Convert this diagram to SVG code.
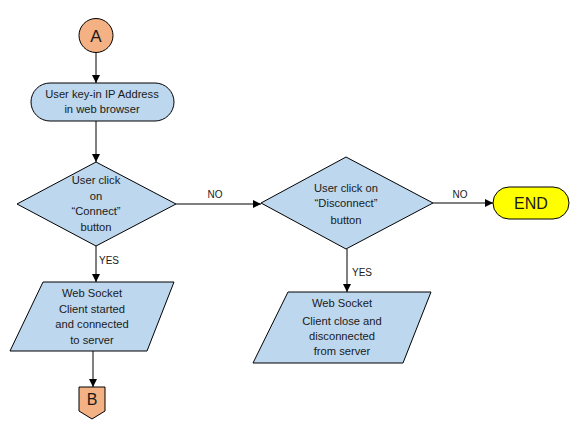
<svg xmlns="http://www.w3.org/2000/svg" width="573" height="427" viewBox="0 0 573 427">
<style>
text{font-family:"Liberation Sans",Arial,sans-serif;font-size:11.2px;fill:#1a1a1a;text-anchor:middle}
.proc{fill:#BDD7EE;stroke:#000;stroke-width:1}
.conn{fill:#F4B183;stroke:#000;stroke-width:1}
.line{fill:none;stroke:#000;stroke-width:1}
.lbl{font-size:10px}
</style>
<defs>
<marker id="arr" markerWidth="8" markerHeight="8" refX="8" refY="4" orient="auto" markerUnits="userSpaceOnUse">
<path d="M0,0 L8,4 L0,8 Z" fill="#000"/>
</marker>
</defs>
<rect width="573" height="427" fill="#fff"/>
<g id="connectors">
<line class="line" x1="96" y1="53" x2="96" y2="83" marker-end="url(#arr)"/>
<line class="line" x1="96" y1="121" x2="96" y2="162" marker-end="url(#arr)"/>
<line class="line" x1="96" y1="246" x2="96" y2="282" marker-end="url(#arr)"/>
<text class="lbl" x="109" y="264">YES</text>
<line class="line" x1="93" y1="351" x2="93" y2="387" marker-end="url(#arr)"/>
<line class="line" x1="176" y1="204" x2="261" y2="204" marker-end="url(#arr)"/>
<text class="lbl" x="215" y="198">NO</text>
<line class="line" x1="347" y1="249" x2="347" y2="292" marker-end="url(#arr)"/>
<text class="lbl" x="362" y="276">YES</text>
<line class="line" x1="433" y1="203" x2="493" y2="203" marker-end="url(#arr)"/>
<text class="lbl" x="460" y="198">NO</text>
</g>
<g id="nodeA">
<circle class="conn" cx="96" cy="35.5" r="17"/>
<text x="96" y="42" style="font-size:17px">A</text>
</g>
<g id="nodeKeyIn">
<rect class="proc" x="31" y="83" width="143" height="38" rx="19"/>
<text x="102" y="98">User key-in IP Address</text>
<text x="102" y="113">in web browser</text>
</g>
<g id="nodeConnect">
<polygon class="proc" points="96,162 176,204 96,246 17,204"/>
<text x="96" y="184">User click</text>
<text x="96" y="200">on</text>
<text x="96" y="215">“Connect”</text>
<text x="96" y="231">button</text>
</g>
<g id="nodeStarted">
<polygon class="proc" points="43,282 174,282 147,351 10,351"/>
<text x="92" y="297">Web Socket</text>
<text x="92" y="313">Client started</text>
<text x="92" y="328">and connected</text>
<text x="92" y="344">to server</text>
</g>
<g id="nodeB">
<polygon class="conn" points="79,387 105,387 105,411 92,419 79,411"/>
<text x="92" y="405" style="font-size:16px">B</text>
</g>
<g id="nodeDisconnect">
<polygon class="proc" points="346,157 433,203 346,249 261,203"/>
<text x="346" y="192">User click on</text>
<text x="346" y="207">“Disconnect”</text>
<text x="346" y="224">button</text>
</g>
<g id="nodeClose">
<polygon class="proc" points="288,292 431,292 403,363 253,363"/>
<text x="342" y="307">Web Socket</text>
<text x="342" y="325">Client close and</text>
<text x="342" y="340">disconnected</text>
<text x="342" y="355">from server</text>
</g>
<g id="nodeEnd">
<rect x="493" y="187" width="76" height="32" rx="16" fill="#FFFF00" stroke="#000" stroke-width="1"/>
<text x="531" y="209" style="font-size:16px">END</text>
</g>
</svg>
